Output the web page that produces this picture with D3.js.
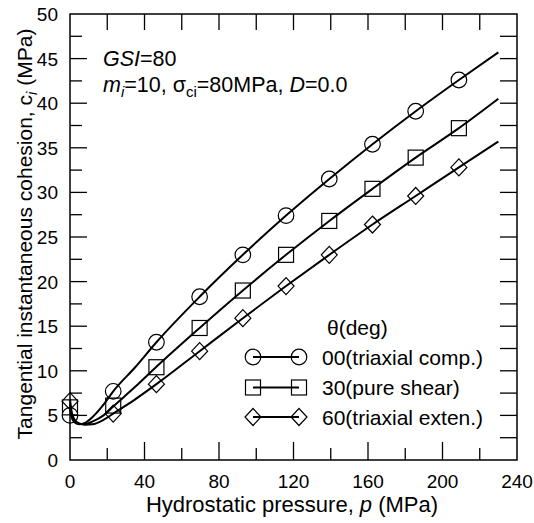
<!DOCTYPE html>
<html><head><meta charset="utf-8">
<script src="https://cdn.jsdelivr.net/npm/d3@7"></script>
<style>body{margin:0;background:#fff}svg{display:block}text{font-family:"Liberation Sans",Arial,sans-serif;fill:#000}</style>
</head><body><svg id="c" width="534" height="523"></svg>
<script>
// Marker data (p in MPa, ci in MPa)
const markerP = [0, 23.2, 46.4, 69.6, 92.8, 116, 139.2, 162.4, 185.6, 208.8];
const circleCi = [5.0, 7.7, 13.2, 18.3, 23.0, 27.4, 31.5, 35.4, 39.1, 42.6];
const squareCi = [5.9, 6.1, 10.4, 14.8, 19.0, 23.0, 26.8, 30.4, 33.9, 37.2];
const diamondCi = [6.6, 5.2, 8.5, 12.2, 15.9, 19.5, 23.0, 26.4, 29.6, 32.8];
// Curve data
const curveP = [0, 1, 2.5, 5, 8, 12, 18, 23.2, 35, 46.4, 69.6, 92.8, 116, 139.2, 162.4, 185.6, 208.8, 230];
const circleCurve = [5.6, 4.7, 4.2, 4.0, 4.15, 4.8, 6.2, 7.7, 10.4, 13.2, 18.3, 23.0, 27.4, 31.5, 35.4, 39.1, 42.6, 45.7];
const squareCurve = [6.2, 5.0, 4.4, 4.05, 4.0, 4.3, 5.0, 6.0, 8.2, 10.45, 14.8, 19.0, 23.0, 26.8, 30.4, 33.9, 37.2, 40.5];
const diamondCurve = [6.8, 5.3, 4.5, 4.1, 3.95, 4.0, 4.5, 5.2, 6.8, 8.5, 12.2, 15.9, 19.5, 23.0, 26.4, 29.6, 32.8, 35.7];
const legendLabels = ["00(triaxial comp.)", "30(pure shear)", "60(triaxial exten.)"];
const xTickLabels = [0, 40, 80, 120, 160, 200, 240];
const yTickLabels = [0, 5, 10, 15, 20, 25, 30, 35, 40, 45, 50];

const svg = d3.select("#c");
const L = 70, R = 517, T = 14, B = 460;
const x = d3.scaleLinear().domain([0, 240]).range([L, R]);
const y = d3.scaleLinear().domain([0, 50]).range([B, T]);
const FS = 19;

// frame
svg.append("rect").attr("x", L).attr("y", T).attr("width", R - L).attr("height", B - T)
  .attr("fill", "none").attr("stroke", "#000").attr("stroke-width", 1.5);

const g = svg.append("g");
d3.range(20, 240, 20).forEach(v => {
  const major = v % 40 === 0;
  g.append("line").attr("x1", x(v)).attr("x2", x(v)).attr("y1", B).attr("y2", B - (major ? 18 : 12)).attr("stroke", "#000").attr("stroke-width", 1.3);
  g.append("line").attr("x1", x(v)).attr("x2", x(v)).attr("y1", T).attr("y2", T + 16).attr("stroke", "#000").attr("stroke-width", 1.3);
});
d3.range(2.5, 50, 2.5).forEach(v => {
  const major = Math.abs(v % 5) < 1e-9;
  g.append("line").attr("x1", L).attr("x2", L + (major ? 17 : 12)).attr("y1", y(v)).attr("y2", y(v)).attr("stroke", "#000").attr("stroke-width", 1.3);
  g.append("line").attr("x1", R).attr("x2", R - 17).attr("y1", y(v)).attr("y2", y(v)).attr("stroke", "#000").attr("stroke-width", 1.3);
});
xTickLabels.forEach(v => {
  svg.append("text").attr("x", x(v)).attr("y", 488).attr("text-anchor", "middle").attr("font-size", FS).text(v);
});
yTickLabels.forEach(v => {
  svg.append("text").attr("x", 58).attr("y", y(v) + 7).attr("text-anchor", "end").attr("font-size", FS).text(v);
});
// axis titles
const xt = svg.append("text").attr("x", 292).attr("y", 512).attr("text-anchor", "middle").attr("font-size", 22);
xt.append("tspan").text("Hydrostatic pressure, ");
xt.append("tspan").attr("font-style", "italic").text("p");
xt.append("tspan").text(" (MPa)");
const yt = svg.append("text").attr("transform", "translate(32,234) rotate(-90)").attr("text-anchor", "middle").attr("font-size", 21);
yt.append("tspan").text("Tangential instantaneous cohesion, c");
yt.append("tspan").attr("font-style", "italic").attr("font-size", 15).attr("dy", 5).text("i");
yt.append("tspan").attr("dy", -5).text(" (MPa)");

// annotations
const a1 = svg.append("text").attr("x", 103).attr("y", 66).attr("font-size", 21.5);
a1.append("tspan").attr("font-style", "italic").text("GSI");
a1.append("tspan").text("=80");
const a2 = svg.append("text").attr("x", 103).attr("y", 92).attr("font-size", 21.5);
a2.append("tspan").attr("font-style", "italic").text("m");
a2.append("tspan").attr("font-style", "italic").attr("font-size", 15).attr("dy", 5).text("i");
a2.append("tspan").attr("dy", -5).text("=10, σ");
a2.append("tspan").attr("font-size", 15).attr("dy", 5).text("ci");
a2.append("tspan").attr("dy", -5).text("=80MPa, ");
a2.append("tspan").attr("font-style", "italic").text("D");
a2.append("tspan").text("=0.0");

// curves
const line = d3.line().x(d => x(d[0])).y(d => y(d[1])).curve(d3.curveMonotoneX);
[circleCurve, squareCurve, diamondCurve].forEach(c => {
  svg.append("path").datum(curveP.map((p, i) => [p, c[i]])).attr("d", line)
    .attr("fill", "none").attr("stroke", "#000").attr("stroke-width", 2);
});

// markers
const diamondPath = "M0,-8.5L8,0L0,8.5L-8,0Z";
function marker(sel, k, cx, cy) {
  const t = `translate(${cx},${cy})`;
  if (k === 0) sel.append("circle").attr("cx", cx).attr("cy", cy).attr("r", 7.8)
    .attr("fill", "none").attr("stroke", "#000").attr("stroke-width", 1.2);
  else if (k === 1) sel.append("rect").attr("x", cx - 7.5).attr("y", cy - 7.5).attr("width", 15).attr("height", 15)
    .attr("fill", "none").attr("stroke", "#000").attr("stroke-width", 1.2);
  else sel.append("path").attr("d", diamondPath).attr("transform", t)
    .attr("fill", "none").attr("stroke", "#000").attr("stroke-width", 1.2);
}
[circleCi, squareCi, diamondCi].forEach((vals, k) => {
  vals.forEach((v, i) => marker(svg, k, x(markerP[i]), y(v)));
});

// legend
svg.append("text").attr("x", 327).attr("y", 335).attr("font-size", 21).text("θ(deg)");
const legendY = [357, 387.5, 417];
legendLabels.forEach((lab, k) => {
  const ly = legendY[k];
  svg.append("line").attr("x1", 253).attr("x2", 299).attr("y1", ly).attr("y2", ly).attr("stroke", "#000").attr("stroke-width", 2);
  marker(svg, k, 253, ly);
  marker(svg, k, 299, ly);
  svg.append("text").attr("x", 322).attr("y", ly + 7.5).attr("font-size", 21).text(lab);
});
</script></body></html>
